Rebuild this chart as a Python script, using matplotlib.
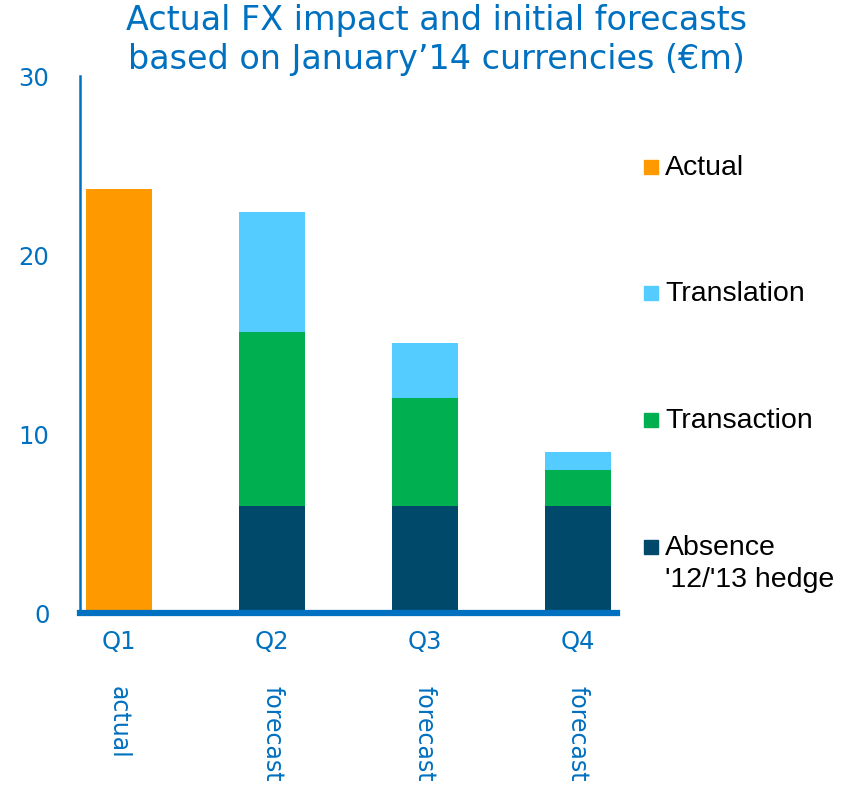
import matplotlib
matplotlib.use('Agg')
import matplotlib.pyplot as plt
from matplotlib.patches import Rectangle

# data
quarters = ['Q1', 'Q2', 'Q3', 'Q4']
kinds = ['actual', 'forecast', 'forecast', 'forecast']
actual = [23.7, 0, 0, 0]
hedge = [0, 6.0, 6.0, 6.0]
transaction = [0, 9.7, 6.0, 2.0]
translation = [0, 6.7, 3.1, 1.0]

legend_labels = ['Actual', 'Translation', 'Transaction', "Absence\n'12/'13 hedge"]

blue = '#0070C0'
orange = '#FF9900'
light_blue = '#55CCFF'
green = '#00B050'
navy = '#00496B'

fig = plt.figure(figsize=(8.53, 7.85), dpi=100)
ax = fig.add_axes([0.0938, 0.219, 0.6295, 0.684])

x = range(len(quarters))
w = 0.43
ax.bar(x, actual, w, color=orange)
ax.bar(x, hedge, w, color=navy)
ax.bar(x, transaction, w, bottom=hedge, color=green)
bottom3 = [h + t for h, t in zip(hedge, transaction)]
ax.bar(x, translation, w, bottom=bottom3, color=light_blue)

ax.set_xlim(-0.255, 3.255)
ax.set_ylim(0, 30)
ax.set_yticks([0, 10, 20, 30])
ax.set_xticks(list(x))
ax.set_xticklabels(quarters)
ax.tick_params(length=0, colors=blue, labelsize=17.5, pad=22)
ax.tick_params(axis='x', pad=12)

for s in ['top', 'right']:
    ax.spines[s].set_visible(False)
ax.spines['left'].set_color(blue)
ax.spines['left'].set_linewidth(1.8)
ax.spines['bottom'].set_color(blue)
ax.spines['bottom'].set_linewidth(4.5)

# rotated labels below quarters
for i, k in enumerate(kinds):
    ax.text(i, -4.1, k, rotation=-90, ha='center', va='top', color=blue,
            fontsize=17, transform=ax.transData, clip_on=False)

fig.text(0.512, 0.995, 'Actual FX impact and initial forecasts\nbased on January\u201914 currencies (\u20acm)',
         ha='center', va='top', color=blue, fontsize=24, linespacing=1.22)

# legend drawn by hand
leg_colors = [orange, light_blue, green, navy]
leg_y = [167, 293, 420, 547]
for c, lab, yy in zip(leg_colors, legend_labels, leg_y):
    fy = 1 - yy / 785
    fig.add_artist(Rectangle((644 / 853, fy - 7 / 785), 14 / 853, 14 / 785,
                             color=c, transform=fig.transFigure))
    fig.text(665 / 853, fy + 12 / 785, lab, ha='left', va='top', fontsize=20.5,
             family=['Liberation Sans', 'DejaVu Sans'], color='black', linespacing=1.3)

fig.savefig('out.png', dpi=100)
